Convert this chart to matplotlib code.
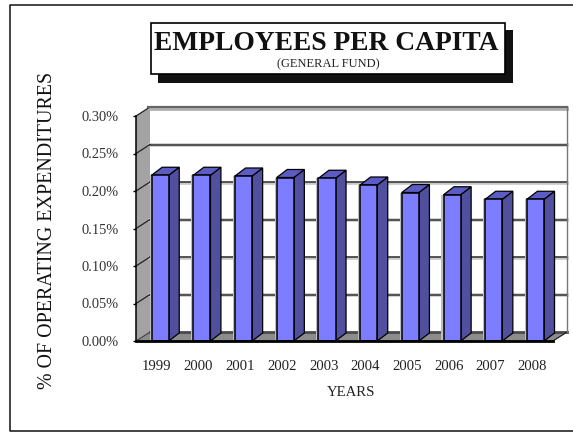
import matplotlib
matplotlib.use('Agg')
import matplotlib.pyplot as plt
from matplotlib.patches import Polygon, Rectangle

years = ['1999', '2000', '2001', '2002', '2003', '2004', '2005', '2006', '2007', '2008']
valores = [0.221, 0.221, 0.220, 0.218, 0.217, 0.208, 0.198, 0.195, 0.189, 0.189]
y_ticks = [0.00, 0.05, 0.10, 0.15, 0.20, 0.25, 0.30]
y_labels = ['0.00%', '0.05%', '0.10%', '0.15%', '0.20%', '0.25%', '0.30%']

W, H = 573, 433
plt.rcParams['font.family'] = ['Liberation Serif', 'DejaVu Serif']

fig = plt.figure(figsize=(W / 100, H / 100), dpi=100)

# marco exterior y titulo en pixeles
fondo = fig.add_axes([0, 0, 1, 1])
fondo.set_xlim(0, W)
fondo.set_ylim(H, 0)
fondo.axis('off')
fondo.plot([W + 2, 9.5, 9.5, W + 2], [5, 5, 431, 431], color='#111111', lw=1.1)
fondo.add_patch(Rectangle((158, 30), 355, 52.5, fc='#111111', ec='none', zorder=3))
fondo.add_patch(Rectangle((151, 23), 354, 51, fc='white', ec='black', lw=1.2, zorder=4))
fondo.text(326.5, 44, 'EMPLOYEES PER CAPITA', ha='center', va='center', fontsize=19.8,
           fontweight='bold', color='#111111', zorder=5)
fondo.text(328, 64, '(GENERAL FUND)', ha='center', va='center', fontsize=9,
           color='#222222', zorder=5)

# ejes sobre el plano frontal del grafico 3D
ax = fig.add_axes([136 / W, 1 - 341 / H, 417 / W, 225 / H])
ax.set_xlim(0, 10)
ax.set_ylim(0, 0.30)
ax.patch.set_alpha(0)
for lado in ['top', 'right']:
    ax.spines[lado].set_visible(False)
ax.spines['left'].set_linewidth(1.1)
ax.spines['bottom'].set_linewidth(2.0)
for s in ax.spines.values():
    s.set_zorder(6)

# profundidad en unidades de datos
dx_fondo = 14 / 41.7
dy_fondo = 0.30 * 9 / 225
dx_barra = 10.5 / 41.7
dy_barra = 0.30 * 8 / 225
ancho = 0.41
inicio = 0.375


def poli(puntos, **kw):
    p = Polygon(puntos, closed=True, clip_on=False, **kw)
    ax.add_patch(p)
    return p


# pared de fondo, pared lateral y piso
poli([(dx_fondo, dy_fondo), (10 + dx_fondo, dy_fondo), (10 + dx_fondo, 0.30 + dy_fondo),
      (dx_fondo, 0.30 + dy_fondo)], fc='white', ec='none', zorder=1)
poli([(0, 0), (dx_fondo, dy_fondo), (dx_fondo, 0.30 + dy_fondo), (0, 0.30)],
     fc='#a3a3a3', ec='none', zorder=1)
poli([(0, 0), (10, 0), (10 + dx_fondo, dy_fondo), (dx_fondo, dy_fondo)],
     fc='#8c8c8c', ec='none', zorder=1.6)
ax.plot([dx_fondo, 10 + dx_fondo], [dy_fondo, dy_fondo], color='#4a4a4a', lw=2.0,
        clip_on=False, zorder=1.7)

# rejilla
for t in y_ticks[1:]:
    ax.plot([dx_fondo, 10 + dx_fondo], [t + dy_fondo - 0.0012] * 2, color='#c8c8c8', lw=2.6,
            clip_on=False, zorder=1.5)
    ax.plot([dx_fondo, 10 + dx_fondo], [t + dy_fondo, t + dy_fondo], color='#333333', lw=1.1,
            clip_on=False, zorder=2)
    ax.plot([0, dx_fondo], [t, t + dy_fondo], color='#222222', lw=0.9, clip_on=False, zorder=2)
ax.plot([0, dx_fondo], [0, dy_fondo], color='#444444', lw=0.8, clip_on=False, zorder=2)
ax.plot([10, 10 + dx_fondo], [0, dy_fondo], color='#222222', lw=0.9, clip_on=False, zorder=2)
ax.plot([10 + dx_fondo] * 2, [dy_fondo, 0.30 + dy_fondo], color='#777777', lw=1.0,
        clip_on=False, zorder=2)
ax.plot([dx_fondo, 10 + dx_fondo], [0.30 + dy_fondo - 0.002] * 2, color='#b0b0b0', lw=2.0,
        clip_on=False, zorder=1.9)
ax.plot([0.28, 10 + dx_fondo], [0.30 + dy_fondo] * 2, color='#666666', lw=1.6,
        clip_on=False, zorder=2)

# barras: cara frontal con ax.bar, lado y tapa con poligonos
posiciones = [i + inicio for i in range(len(valores))]
for x0, v in zip(posiciones, valores):
    # sombra gris a la izquierda de cada barra
    ax.bar(x0 - 0.05, v, width=0.06, align='edge', color='#bdbdbd', edgecolor='none', zorder=2.5)
ax.bar(posiciones, valores, width=ancho, align='edge', color='#7d7dff', edgecolor='black',
       linewidth=1.1, zorder=4)
for x0, v in zip(posiciones, valores):
    x1 = x0 + ancho
    poli([(x1, 0), (x1 + dx_barra, dy_barra), (x1 + dx_barra, v + dy_barra), (x1, v)],
         fc='#50509f', ec='black', lw=0.9, zorder=3)
    poli([(x0, v), (x1, v), (x1 + dx_barra, v + dy_barra), (x0 + dx_barra, v + dy_barra)],
         fc='#5c5cc4', ec='black', lw=0.9, zorder=3.5)

ax.set_yticks(y_ticks)
ax.set_yticklabels(y_labels, color='#333333')
ax.set_xticks([i + 0.5 for i in range(len(years))])
ax.set_xticklabels(years, color='#222222')
ax.tick_params(axis='x', length=0, pad=14, labelsize=10.6)
ax.tick_params(axis='y', length=2.5, width=1, pad=10, labelsize=10.4)

fig.text(351 / W, 1 - 393 / H, 'YEARS', ha='center', va='center', fontsize=10.6, color='#222222')
fig.text(48 / W, 1 - 230 / H, '% OF OPERATING EXPENDITURES', ha='center', va='center',
         rotation=90, fontsize=14.4, color='#111111')

fig.savefig('out.png', dpi=100)
